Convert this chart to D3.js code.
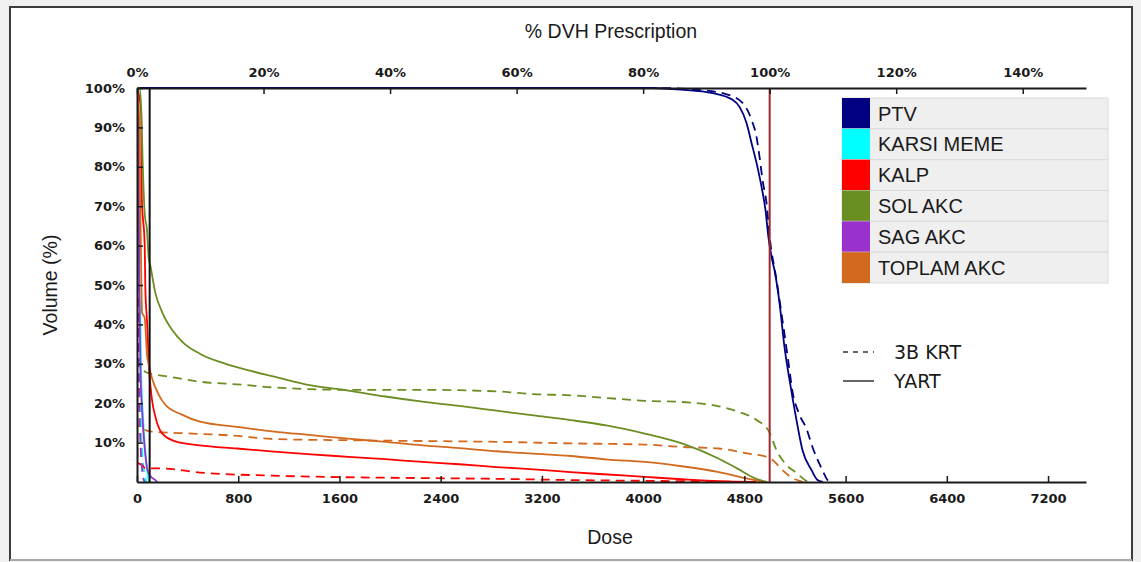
<!DOCTYPE html>
<html>
<head>
<meta charset="utf-8">
<script src="https://cdn.jsdelivr.net/npm/d3@7"></script>
<style>
  html, body { margin: 0; padding: 0; background: #f0f0f0; }
  svg { display: block; }
</style>
</head>
<body>
<div id="chart"></div>
<script>
// ── Data (dose in cGy, volume in %) ──
const structures = ['PTV', 'KARSI MEME', 'KALP', 'SOL AKC', 'SAG AKC', 'TOPLAM AKC'];
const structColors = ['#000080', '#00ffff', '#ff0000', '#6b8e23', '#9932cc', '#d2691e'];
const plans = ['3B KRT', 'YART'];
const prescription = 5000;
const markerDose = 100;

const doseTicks = [0, 800, 1600, 2400, 3200, 4000, 4800, 5600, 6400, 7200];
const pctTicks = [0, 20, 40, 60, 80, 100, 120, 140];
const volTicks = [10, 20, 30, 40, 50, 60, 70, 80, 90, 100];

// YART (solid)
const ptvYart = [[0,100],[4070,100],[4300,99.6],[4550,98.7],[4707,97],[4762,95.2],[4817,91.1],[4857,86],[4896,81],[4936,74.9],[4967,69],[4990,62.2],[5015,57.1],[5038,53.8],[5078,45.4],[5117,34.3],[5157,25.9],[5212,15.7],[5259,8.1],[5331,3],[5378,0.5],[5420,0]];
const karsiYart = [[0,100],[15,60],[18,51],[26,42],[34,26],[45,18],[61,9.5],[79,3.6],[92,0.6],[100,0]];
const kalpYart = [[0,100],[30,95],[34,92.8],[38,72],[61,60],[66,49],[79,41],[97,28],[118,21],[145,16.6],[197,12.4],[303,10.3],[497,9.3],[790,8.5],[1083,7.7],[1376,7.0],[1669,6.4],[1962,5.8],[2255,5.1],[2548,4.5],[2841,3.8],[3134,3.2],[3427,2.5],[3720,1.9],[4013,1.3],[4306,0.7],[4599,0.2],[4893,0]];
const solYart = [[0,100],[20,100],[34,94],[45,81],[61,68],[79,64],[92,57],[105,55],[145,48],[200,43],[280,38.5],[360,35.5],[500,32.5],[700,30],[900,28.2],[1100,26.6],[1376,24.5],[1669,23.2],[1962,21.7],[2255,20.4],[2548,19.3],[2841,18.1],[3134,16.9],[3427,15.7],[3720,14.3],[4013,12.3],[4306,9.8],[4599,5.9],[4746,3.4],[4893,0.8],[4980,0]];
const sagYart = [[0,100],[10,95],[15,70],[20,45],[26,30],[40,18],[61,8.6],[79,3.6],[105,1.5],[145,0.5],[160,0]];
const toplamYart = [[0,100],[20,90],[26,70],[35,50],[40,43],[61,41.6],[79,32.3],[92,29.8],[118,26.4],[171,22.2],[224,19.6],[355,17.1],[497,15.3],[790,14.0],[1083,12.8],[1376,11.9],[1669,11.0],[1962,10.2],[2255,9.3],[2548,8.6],[2841,7.8],[3134,7.2],[3427,6.6],[3720,5.7],[4013,5.1],[4306,4.0],[4599,2.5],[4834,0.8],[4951,0]];

// 3B KRT (dashed)
const ptvKrt = [[0,100],[4100,100],[4400,99.6],[4650,98.5],[4786,96.2],[4857,91.9],[4896,87.6],[4920,82.5],[4944,76.6],[4975,70.8],[5000,62.2],[5054,51.3],[5101,41.1],[5150,30],[5180,23],[5230,17.5],[5291,13.5],[5338,8.9],[5417,3],[5457,0.5],[5480,0]];
const karsiKrt = [[0,100],[10,55],[20,30],[30,15],[45,6],[60,2],[75,0]];
const kalpKrt = [[0,100],[3,5],[40,4.3],[66,3.5],[224,3.4],[497,2.4],[1083,1.6],[1669,1.2],[2255,1.0],[2841,0.8],[3427,0.5],[4013,0.3],[4599,0.1],[4800,0]];
const solKrt = [[0,100],[5,31],[13,29.7],[92,27.6],[224,26.9],[487,25.5],[829,24.7],[1083,24.0],[1669,23.4],[2255,23.4],[2841,23.0],[3134,22.3],[3427,22.0],[3720,21.3],[4013,20.6],[4306,20.3],[4599,19.2],[4746,17.9],[4893,15.8],[4995,12.8],[5054,8.1],[5133,4.3],[5212,2.3],[5291,0.3],[5320,0]];
const sagKrt = [[0,100],[5,60],[10,40],[18,20],[30,8],[45,2],[60,0]];
const toplamKrt = [[0,100],[3,15],[10,14.1],[118,12.8],[355,12.4],[750,11.8],[1083,10.9],[1669,10.6],[2255,10.4],[2841,10.2],[3427,9.8],[4013,9.5],[4306,8.9],[4599,8.5],[4834,7.2],[4980,6.3],[5023,5.6],[5101,3],[5180,1],[5236,0.3],[5260,0]];

const yartCurves = [ptvYart, karsiYart, kalpYart, solYart, sagYart, toplamYart];
const krtCurves = [ptvKrt, karsiKrt, kalpKrt, solKrt, sagKrt, toplamKrt];

// ── Layout ──
const W = 1141, H = 562;
const M = { left: 137, right: 1086, top: 88, bottom: 482 };
const COL = {
  page: '#f0f0f0',
  axis: '#1a1a1a',
  text: '#1a1a1a',
  rx: '#a0282a',
  legendBg: '#efefef',
  legendLine: '#dadada',
};

const svg = d3.select('#chart').append('svg')
  .attr('width', W).attr('height', H)
  .attr('viewBox', `0 0 ${W} ${H}`);

svg.append('rect').attr('width', W).attr('height', H).attr('fill', COL.page);
svg.append('rect')
  .attr('x', 10).attr('y', 7).attr('width', 1122).attr('height', 553)
  .attr('fill', '#fff').attr('stroke', '#3c3c3c').attr('stroke-width', 2);
svg.append('line').attr('x1', 10).attr('x2', 1132).attr('y1', 560).attr('y2', 560)
  .attr('stroke', '#a8a8a8').attr('stroke-width', 2);

const x = d3.scaleLinear().domain([0, 7500]).range([M.left, M.right]);
const xPct = d3.scaleLinear().domain([0, 7500 / prescription * 100]).range([M.left, M.right]);
const y = d3.scaleLinear().domain([0, 100]).range([M.bottom, M.top]);

svg.append('clipPath').attr('id', 'plot-clip')
  .append('rect').attr('x', M.left).attr('y', M.top - 2)
  .attr('width', M.right - M.left).attr('height', M.bottom - M.top + 2);

const plot = svg.append('g').attr('clip-path', 'url(#plot-clip)');
const line = d3.line().x(d => x(d[0])).y(d => y(d[1])).curve(d3.curveMonotoneX);

// Dashed (3B KRT) then solid (YART)
plot.selectAll('path.krt').data(krtCurves).enter().append('path')
  .attr('class', 'krt')
  .attr('d', line)
  .attr('fill', 'none')
  .attr('stroke', (d, i) => structColors[i])
  .attr('stroke-width', 1.8)
  .attr('stroke-dasharray', '9,6');

plot.selectAll('path.yart').data(yartCurves).enter().append('path')
  .attr('class', 'yart')
  .attr('d', line)
  .attr('fill', 'none')
  .attr('stroke', (d, i) => structColors[i])
  .attr('stroke-width', 1.8);

// Reference lines
plot.append('line')
  .attr('x1', x(markerDose)).attr('x2', x(markerDose))
  .attr('y1', M.top).attr('y2', M.bottom)
  .attr('stroke', '#111').attr('stroke-width', 2);
plot.append('line')
  .attr('x1', x(prescription)).attr('x2', x(prescription))
  .attr('y1', M.top).attr('y2', M.bottom)
  .attr('stroke', COL.rx).attr('stroke-width', 2);

// Axes
const tickFont = "bold 13px 'DejaVu Sans', sans-serif";
function styleAxis(g) {
  g.select('.domain').attr('stroke', COL.axis).attr('stroke-width', 2);
  g.selectAll('.tick line').attr('stroke', COL.axis).attr('stroke-width', 1.5);
  g.selectAll('.tick text').style('font', tickFont).attr('fill', COL.text);
}

svg.append('g').attr('transform', `translate(0,${M.bottom})`)
  .call(d3.axisBottom(x).tickValues(doseTicks).tickFormat(d3.format('d')).tickSizeInner(-6).tickSizeOuter(0).tickPadding(12))
  .call(styleAxis);

svg.append('g').attr('transform', `translate(0,${M.top})`)
  .call(d3.axisTop(xPct).tickValues(pctTicks).tickFormat(d => d + '%').tickSizeInner(-6).tickSizeOuter(0).tickPadding(11))
  .call(styleAxis);

svg.append('g').attr('transform', `translate(${M.left},0)`)
  .call(d3.axisLeft(y).tickValues(volTicks).tickFormat(d => d + '%').tickSizeInner(-6).tickSizeOuter(0).tickPadding(12))
  .call(styleAxis);

// Titles
const titleFont = "19.5px 'Liberation Sans', Arial, sans-serif";
svg.append('text').attr('x', 611).attr('y', 38).attr('text-anchor', 'middle')
  .style('font', titleFont).attr('fill', COL.text).text('% DVH Prescription');
svg.append('text').attr('x', 610).attr('y', 544).attr('text-anchor', 'middle')
  .style('font', titleFont).attr('fill', COL.text).text('Dose');
svg.append('text').attr('transform', 'translate(57,285) rotate(-90)').attr('text-anchor', 'middle')
  .style('font', titleFont).attr('fill', COL.text).text('Volume (%)');

// Structure legend
const legY = d3.scaleBand().domain(structures).range([98, 283]);
const leg = svg.append('g');
const rows = leg.selectAll('g').data(structures).enter().append('g')
  .attr('transform', d => `translate(842,${legY(d)})`);
rows.append('rect')
  .attr('width', 266).attr('height', legY.bandwidth())
  .attr('fill', COL.legendBg).attr('stroke', COL.legendLine).attr('stroke-width', 1);
rows.append('rect')
  .attr('width', 28).attr('height', legY.bandwidth())
  .attr('fill', (d, i) => structColors[i]);
rows.append('text')
  .attr('x', 36).attr('y', legY.bandwidth() / 2).attr('dy', '0.36em')
  .style('font', "20px 'Liberation Sans', Arial, sans-serif")
  .attr('fill', '#1a1a1a')
  .text(d => d);

// Plan legend
const planY = d3.scalePoint().domain(plans).range([352, 381]);
const pl = svg.append('g').selectAll('g').data(plans).enter().append('g')
  .attr('transform', d => `translate(843,${planY(d)})`);
pl.append('line')
  .attr('x1', 0).attr('x2', 31).attr('y1', 0).attr('y2', 0)
  .attr('stroke', '#333').attr('stroke-width', 1.5)
  .attr('stroke-dasharray', (d, i) => i === 0 ? '5,5' : null);
pl.append('text')
  .attr('x', 51).attr('dy', '0.36em')
  .style('font', "19px 'DejaVu Sans', sans-serif")
  .attr('fill', '#1a1a1a')
  .text(d => d);
</script>
</body>
</html>
